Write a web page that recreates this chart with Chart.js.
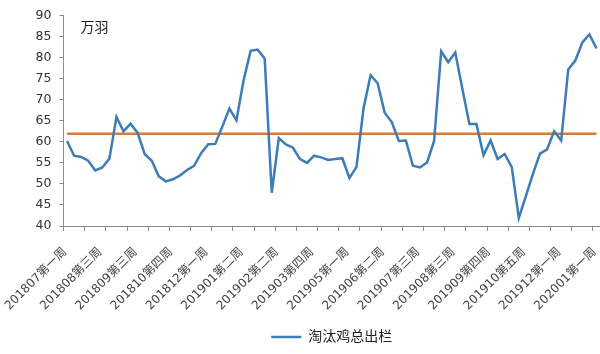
<!DOCTYPE html>
<html>
<head>
<meta charset="utf-8">
<script src="https://cdn.jsdelivr.net/npm/chart.js@4/dist/chart.umd.min.js"></script>
<style>
  html, body { margin: 0; padding: 0; background: #fff; }
  #wrap { width: 600px; height: 354px; position: relative; }
</style>
</head>
<body>
<div id="wrap"><canvas id="chart_cullLayers"></canvas></div>
<script>
// categories (weeks)
var weekLabels = [
  '201807第一周', '201807第三周', '201807第四周', '201808第一周', '201808第二周',
  '201808第三周', '201808第四周', '201808第五周', '201809第一周', '201809第二周',
  '201809第三周', '201809第四周', '201810第一周', '201810第二周', '201810第三周',
  '201810第四周', '201811第一周', '201811第二周', '201811第三周', '201811第四周',
  '201812第一周', '201812第二周', '201812第三周', '201812第四周', '201901第一周',
  '201901第二周', '201901第三周', '201901第四周', '201901第五周', '201902第一周',
  '201902第二周', '201902第三周', '201902第四周', '201903第二周', '201903第三周',
  '201903第四周', '201904第一周', '201904第二周', '201904第三周', '201904第四周',
  '201905第一周', '201905第二周', '201905第三周', '201905第四周', '201906第一周',
  '201906第二周', '201906第三周', '201906第四周', '201907第一周', '201907第二周',
  '201907第三周', '201907第四周', '201907第五周', '201908第一周', '201908第二周',
  '201908第三周', '201908第四周', '201909第一周', '201909第二周', '201909第三周',
  '201909第四周', '201910第一周', '201910第二周', '201910第三周', '201910第四周',
  '201910第五周', '201911第一周', '201911第二周', '201911第三周', '201911第四周',
  '201912第一周', '201912第二周', '201912第三周', '201912第四周', '201912第五周',
  '202001第一周'
];

// 淘汰鸡总出栏 (万羽)
var cullTotal = [
  60.2, 56.7, 56.4, 55.5, 53.2, 53.9, 56.0, 65.9, 62.5, 64.3,
  62.1, 57.1, 55.5, 51.8, 50.6, 51.1, 52.0, 53.3, 54.3, 57.3,
  59.4, 59.5, 63.6, 67.9, 65.1, 74.5, 81.6, 81.9, 79.8, 47.9,
  60.9, 59.4, 58.6, 55.9, 55.0, 56.7, 56.3, 55.7, 55.9, 56.1,
  51.4, 54.0, 67.9, 75.8, 73.9, 66.9, 64.7, 60.2, 60.3, 54.3,
  53.9, 55.1, 60.2, 81.5, 78.9, 81.2, 72.6, 64.2, 64.2, 56.8,
  60.3, 55.9, 57.1, 54.0, 41.9, 47.1, 52.4, 57.2, 58.2, 62.5,
  60.3, 77.2, 79.3, 83.6, 85.5, 82.2
];

// horizontal reference level
var avgLevel = 61.9;

var yTicks = { min: 40, max: 90, step: 5 };
var unitText = '万羽';

var axisGray = '#8c8c8c';
var textFont = "'DejaVu Sans', 'Noto Sans CJK SC', sans-serif";

var chart_cullLayers = new Chart(document.getElementById('chart_cullLayers'), {
    type: 'line',
    data: {
        labels: weekLabels,
        datasets: [
            {
                label: '淘汰鸡总出栏',
                data: cullTotal,
                borderColor: '#3D7CB6',
                backgroundColor: '#3D7CB6',
                borderWidth: 2.5,
                pointRadius: 0,
                tension: 0
            },
            {
                label: 'avg',
                data: [
                    { x: weekLabels[0], y: avgLevel },
                    { x: weekLabels[weekLabels.length - 1], y: avgLevel }
                ],
                borderColor: '#DF7A35',
                borderWidth: 2.5,
                pointRadius: 0
            }
        ]
    },
    options: {
        animation: false,
        responsive: true,
        maintainAspectRatio: false,
        layout: {
            padding: { top: 15, right: 0, left: 0, bottom: 0 }
        },
        plugins: {
            legend: {
                position: 'bottom',
                fullSize: false,
                labels: {
                    filter: function (item) { return item.datasetIndex === 0; },
                    usePointStyle: true,
                    pointStyle: 'line',
                    pointStyleWidth: 30,
                    padding: 6,
                    color: '#222',
                    font: { family: textFont, size: 14 }
                }
            },
            tooltip: { enabled: false }
        },
        scales: {
            x: {
                type: 'category',
                offset: true,
                afterFit: function (scale) {
                    scale.height = 98;
                    scale.paddingLeft = 0;
                    scale.paddingRight = 0;
                },
                border: { display: true, color: axisGray, width: 1 },
                grid: {
                    offset: true,
                    drawOnChartArea: false,
                    drawTicks: true,
                    tickLength: 5,
                    color: function (ctx) {
                        return (typeof ctx.index === 'number' && ctx.index % 3 === 0) ? axisGray : 'rgba(0,0,0,0)';
                    }
                },
                ticks: {
                    autoSkip: false,
                    minRotation: 45,
                    maxRotation: 45,
                    padding: 14,
                    labelOffset: -2,
                    color: '#444',
                    font: { family: textFont, size: 12 },
                    callback: function (val, idx) {
                        return idx % 5 === 0 ? this.getLabelForValue(val) : '';
                    }
                }
            },
            y: {
                type: 'linear',
                min: yTicks.min,
                max: yTicks.max,
                afterFit: function (scale) {
                    scale.width = 63.5;
                },
                border: { display: true, color: axisGray, width: 1 },
                grid: {
                    drawOnChartArea: false,
                    drawTicks: true,
                    tickLength: 4,
                    color: axisGray
                },
                ticks: {
                    stepSize: yTicks.step,
                    padding: 8,
                    color: '#333',
                    font: { family: textFont, size: 12.5 }
                }
            }
        }
    },
    plugins: [{
        id: 'whiteBackground',
        beforeDraw: (chart) => {
            const ctx = chart.canvas.getContext('2d');
            ctx.save();
            ctx.globalCompositeOperation = 'destination-over';
            ctx.fillStyle = 'white';
            ctx.fillRect(0, 0, chart.canvas.width, chart.canvas.height);
            ctx.restore();
        }
    }, {
        id: 'unitLabel',
        afterDraw: (chart) => {
            const ctx = chart.ctx;
            const area = chart.chartArea;
            ctx.save();
            ctx.fillStyle = '#222';
            ctx.font = "14px 'Noto Sans CJK SC', sans-serif";
            ctx.textBaseline = 'middle';
            ctx.fillText(unitText, area.left + 17, area.top + 11);
            ctx.restore();
        }
    }]
});
</script>
</body>
</html>
